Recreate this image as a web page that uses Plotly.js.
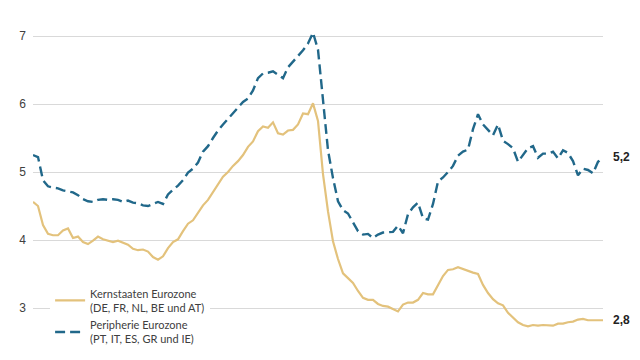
<!DOCTYPE html>
<html>
<head>
<meta charset="utf-8">
<script src="https://cdn.plot.ly/plotly-3.0.1.min.js"></script>
<style>html,body{margin:0;padding:0;background:#fff}#chart{width:640px;height:360px}</style>
</head>
<body>
<div id="chart"></div>
<script>
// Series names
const nameKern = "Kernstaaten Eurozone<br>(DE, FR, NL, BE und AT)";
const namePeri = "Peripherie Eurozone<br>(PT, IT, ES, GR und IE)";

// Values (periods in sequence, left to right)
const kern = [4.56,4.50,4.22,4.09,4.07,4.07,4.14,4.17,4.03,4.05,
              3.97,3.94,3.99,4.05,4.01,3.99,3.97,3.99,3.96,3.93,
              3.87,3.85,3.86,3.83,3.75,3.71,3.76,3.88,3.97,4.01,
              4.13,4.24,4.29,4.41,4.51,4.59,4.71,4.83,4.93,5.00,
              5.09,5.16,5.25,5.37,5.45,5.60,5.67,5.65,5.73,5.57,
              5.55,5.61,5.62,5.70,5.86,5.85,6.01,5.75,4.97,4.42,
              3.98,3.72,3.51,3.44,3.37,3.25,3.15,3.12,3.12,3.06,
              3.03,3.02,2.99,2.95,3.05,3.08,3.08,3.12,3.22,3.20,
              3.20,3.34,3.47,3.56,3.57,3.60,3.57,3.55,3.52,3.50,
              3.34,3.22,3.13,3.07,3.04,2.93,2.86,2.79,2.75,2.73,
              2.75,2.74,2.75,2.75,2.74,2.77,2.77,2.79,2.80,2.83,
              2.84,2.82,2.82,2.82,2.82];
const peri = [5.25,5.22,4.88,4.79,4.77,4.76,4.73,4.71,4.70,4.66,
              4.60,4.57,4.56,4.59,4.60,4.59,4.60,4.59,4.56,4.58,
              4.55,4.54,4.51,4.50,4.53,4.56,4.53,4.67,4.74,4.80,
              4.88,4.99,5.05,5.14,5.30,5.38,5.50,5.61,5.70,5.78,
              5.86,5.94,6.03,6.08,6.20,6.38,6.45,6.46,6.48,6.43,
              6.38,6.54,6.62,6.71,6.79,6.89,7.05,6.80,6.02,5.32,
              4.91,4.57,4.44,4.39,4.26,4.13,4.08,4.09,4.03,4.08,
              4.11,4.12,4.12,4.21,4.10,4.38,4.48,4.55,4.32,4.30,
              4.53,4.86,4.92,5.00,5.09,5.24,5.30,5.33,5.63,5.85,
              5.70,5.62,5.54,5.70,5.46,5.41,5.35,5.15,5.25,5.35,
              5.38,5.21,5.27,5.27,5.30,5.20,5.32,5.28,5.16,4.95,
              5.05,5.03,4.98,5.15,5.22];
const periods = kern.map((_, i) => i);

const yTicks = [3, 4, 5, 6, 7];
const colKern = "#e3c27c";
const colPeri = "#21688a";

const fmt = v => v.toFixed(1).replace(".", ",");

const traces = [
  {x: periods, y: kern, type: "scatter", mode: "lines", name: nameKern,
   line: {color: colKern, width: 2.2}},
  {x: periods, y: peri, type: "scatter", mode: "lines", name: namePeri,
   line: {color: colPeri, width: 2.4, dash: "10px,5px"}}
];

const last = periods.length - 1;
const layout = {
  width: 640, height: 360,
  margin: {l: 33, r: 37, t: 5, b: 25, autoexpand: false},
  paper_bgcolor: "#fff", plot_bgcolor: "#fff",
  font: {family: "Lato, sans-serif", color: "#404040", size: 12},
  showlegend: true,
  legend: {x: 0.03, y: 0.168, xanchor: "left", yanchor: "top",
           bgcolor: "#fff", font: {size: 11, color: "#404040", family: "Lato, sans-serif"},
           tracegroupgap: 5, itemwidth: 30},
  xaxis: {range: [0, 114], showgrid: false, zeroline: false, showline: false,
          showticklabels: false, ticks: "", fixedrange: true, automargin: false},
  yaxis: {range: [2.603, 7.456], tickvals: yTicks, ticktext: yTicks.map(String),
          showgrid: true, gridcolor: "#d9d9d9", gridwidth: 1, zeroline: false,
          showline: false, ticks: "", ticklabelstandoff: 6, automargin: false,
          tickfont: {size: 12, color: "#404040", family: "Liberation Sans, Arial, sans-serif"}},
  annotations: [
    {x: periods[last], y: peri[last], xref: "x", yref: "y", text: "<b>" + fmt(peri[last]) + "</b>",
     showarrow: false, xanchor: "left", xshift: 8, font: {size: 12, color: "#222", family: "Liberation Sans, Arial, sans-serif"}},
    {x: periods[last], y: kern[last], xref: "x", yref: "y", text: "<b>" + fmt(kern[last]) + "</b>",
     showarrow: false, xanchor: "left", xshift: 8, font: {size: 12, color: "#222", family: "Liberation Sans, Arial, sans-serif"}}
  ]
};

Plotly.newPlot("chart", traces, layout, {displayModeBar: false, staticPlot: true});
</script>
</body>
</html>
